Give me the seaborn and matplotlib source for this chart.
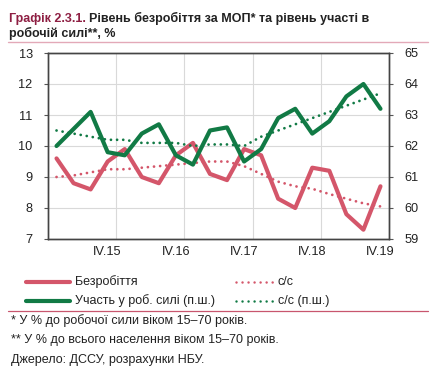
import numpy as np
import pandas as pd
import matplotlib
matplotlib.use("Agg")
import matplotlib.pyplot as plt
from matplotlib.lines import Line2D
import seaborn as sns

quarters = ["I.15", "II.15", "III.15", "IV.15", "I.16", "II.16", "III.16", "IV.16",
            "I.17", "II.17", "III.17", "IV.17", "I.18", "II.18", "III.18", "IV.18",
            "I.19", "II.19", "III.19", "IV.19"]
unemployment = [9.6, 8.8, 8.6, 9.5, 9.9, 9.0, 8.8, 9.7, 10.1, 9.1,
                8.9, 9.9, 9.7, 8.3, 8.0, 9.3, 9.2, 7.8, 7.3, 8.7]
unemployment_sa = [9.0, 9.05, 9.15, 9.25, 9.25, 9.3, 9.35, 9.4, 9.45, 9.5,
                   9.5, 9.35, 9.1, 8.85, 8.7, 8.62, 8.45, 8.3, 8.15, 8.05]
participation = [62.0, 62.55, 63.1, 61.8, 61.7, 62.4, 62.7, 61.7, 61.4, 62.5,
                 62.6, 61.5, 61.9, 62.9, 63.2, 62.4, 62.8, 63.6, 64.0, 63.2]
participation_sa = [62.5, 62.4, 62.3, 62.2, 62.2, 62.1, 62.1, 62.1, 62.0, 62.05,
                    62.05, 62.0, 62.3, 62.5, 62.7, 62.9, 63.1, 63.3, 63.5, 63.7]
tick_labels = ["IV.15", "IV.16", "IV.17", "IV.18", "IV.19"]

RED = "#D4566A"
GREEN = "#117A45"
TITLE_RED = "#8E1F43"
LINE_PINK = "#E3A9B8"
TXT = "#222222"

sns.set_style("white")
plt.rcParams["font.family"] = ["Liberation Sans", "DejaVu Sans"]

df = pd.DataFrame({"x": np.arange(len(quarters)), "q": quarters,
                   "u": unemployment, "usa": unemployment_sa,
                   "p": participation, "psa": participation_sa})

fig = plt.figure(figsize=(4.34, 3.74), dpi=100)
ax = fig.add_axes([48/434, 1-239/374, (389-48)/434, (239-53)/374])
ax2 = ax.twinx()

dot_kw = dict(linewidth=2.0, dashes=(0.01, 2.2), dash_capstyle="round")

sns.lineplot(data=df, x="x", y="usa", ax=ax, color=RED, **dot_kw)
sns.lineplot(data=df, x="x", y="u", ax=ax, color=RED, linewidth=3.0)
sns.lineplot(data=df, x="x", y="psa", ax=ax2, color=GREEN, **dot_kw)
sns.lineplot(data=df, x="x", y="p", ax=ax2, color=GREEN, linewidth=3.0)

ax.set_xlim(-0.5, len(quarters) - 0.5)
ax.set_ylim(7, 13)
ax2.set_ylim(59, 65)
ax.set_yticks(range(7, 14))
ax2.set_yticks(range(59, 66))
label_pos = [quarters.index(t) for t in tick_labels]
ax.set_xticks(label_pos)
ax.set_xticklabels(tick_labels)
ax.set_xticks([p + 0.5 for p in label_pos], minor=True)
ax.tick_params(axis="x", which="major", length=0, pad=5, labelsize=9.2, colors=TXT)
ax.tick_params(axis="x", which="minor", length=3, color="#555555", direction="out")
ax.tick_params(axis="y", length=3, labelsize=9.2, colors=TXT, color="#555555", pad=8)
ax2.tick_params(axis="y", length=3, labelsize=9.2, colors=TXT, color="#555555", pad=8)
ax.grid(True, axis="y", color="#D9D9D9", linewidth=0.8)
ax.grid(True, axis="x", which="minor", color="#D9D9D9", linewidth=0.8)
ax.set_axisbelow(True)
for a in (ax, ax2):
    a.set_xlabel("")
    a.set_ylabel("")
    for s in a.spines.values():
        s.set_color("#444444")
        s.set_linewidth(1.0)

# Title
TFS = 9.0
t1 = fig.text(9/434, 1-22/374, "Графік 2.3.1. ", color=TITLE_RED, fontsize=TFS,
              fontweight="bold", va="baseline")
fig.canvas.draw()
bb = t1.get_window_extent(renderer=fig.canvas.get_renderer())
fig.text(bb.x1/434, 1-22/374, "Рівень безробіття за МОП* та рівень участі в",
         color=TXT, fontsize=TFS, fontweight="bold", va="baseline")
fig.text(9/434, 1-36.5/374, "робочій силі**, %", color=TXT, fontsize=TFS,
         fontweight="bold", va="baseline")
fig.add_artist(Line2D([8/434, 428/434], [1-42/374, 1-42/374], color=LINE_PINK, linewidth=1.0))

# Legend
def leg(x0, x1, y, color, dotted, text):
    yy = 1 - y/374
    if dotted:
        fig.add_artist(Line2D([x0/434, x1/434], [yy, yy], color=color, linewidth=1.8,
                              dashes=(0.01, 2.4), dash_capstyle="round"))
    else:
        fig.add_artist(Line2D([x0/434, x1/434], [yy, yy], color=color, linewidth=3.0))
    fig.text((x1 + 5)/434, yy, text, fontsize=9.0, color=TXT, va="center")

leg(26, 70, 282, RED, False, "Безробіття")
leg(26, 70, 301, GREEN, False, "Участь у роб. силі (п.ш.)")
leg(236, 273, 282, RED, True, "с/с")
leg(236, 273, 301, GREEN, True, "с/с (п.ш.)")
fig.add_artist(Line2D([8/434, 428/434], [1-311/374, 1-311/374], color="#C8566E", linewidth=0.9))

FFS = 9.0
fig.text(11/434, 1-321/374, "* У % до робочої сили віком 15–70 років.", fontsize=FFS,
         color=TXT, va="center")
fig.text(11/434, 1-340/374, "** У % до всього населення віком 15–70 років.", fontsize=FFS,
         color=TXT, va="center")
fig.text(11/434, 1-360/374, "Джерело: ДССУ, розрахунки НБУ.", fontsize=FFS,
         color=TXT, va="center")

fig.savefig("out.png", dpi=100)
